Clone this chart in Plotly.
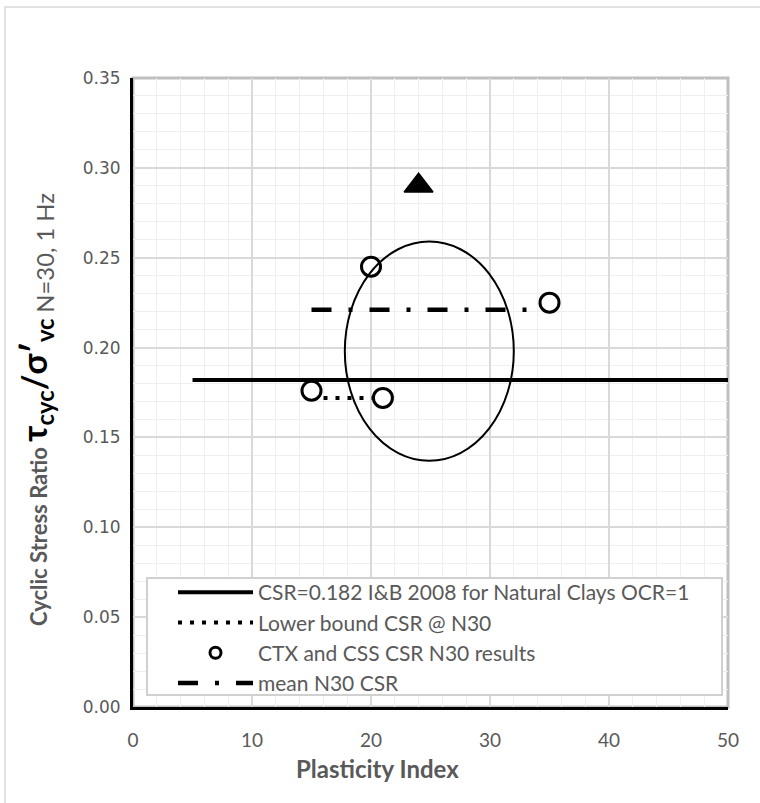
import plotly.graph_objects as go

# Reference line: Idriss & Boulanger (2008) CSR for natural clays
csr_ib_x = [5, 50]
csr_ib_y = [0.182, 0.182]

# Lower bound CSR at N=30
lower_x = [15, 21]
lower_y = [0.172, 0.172]

# Cyclic triaxial / cyclic simple shear results at N=30
test_pi = [15, 21, 20, 35]
test_csr = [0.176, 0.172, 0.245, 0.225]

# Mean N30 CSR
mean_x = [15, 35]
mean_y = [0.221, 0.221]

# Outlier result
outlier_pi = [24]
outlier_csr = [0.29]

# Envelope around the test cluster (PI range, CSR range)
env_pi = [17.8, 32.0]
env_csr = [0.137, 0.259]

x_ticks = [0, 10, 20, 30, 40, 50]
y_ticks = [0.00, 0.05, 0.10, 0.15, 0.20, 0.25, 0.30, 0.35]

GRAY = "#595959"
W, H = 760, 803
L, R, T, B = 133, 32, 78, 96
pw, ph = W - L - R, H - T - B


def px_x(p):
    return (p - L) / pw


def px_y(p):
    return (H - B - p) / ph


fig = go.Figure()

fig.add_trace(go.Scatter(
    x=csr_ib_x, y=csr_ib_y, mode="lines",
    name="CSR=0.182 I&B 2008 for Natural Clays OCR=1",
    line=dict(color="black", width=4), legendrank=1,
))
fig.add_trace(go.Scatter(
    x=lower_x, y=lower_y, mode="lines",
    name="Lower bound CSR @ N30",
    line=dict(color="black", width=4, dash="4px,8px"), legendrank=2,
))
fig.add_trace(go.Scatter(
    x=mean_x, y=mean_y, mode="lines",
    name="mean N30 CSR",
    line=dict(color="black", width=4.5, dash="20px,17px,4px,17px"),
    legendrank=4,
))
fig.add_trace(go.Scatter(
    x=test_pi, y=test_csr, mode="markers",
    name="CTX and CSS CSR N30 results", showlegend=False,
    marker=dict(symbol="circle", size=19, color="white",
                line=dict(color="black", width=3)),
))
# legend key for the test results (smaller symbol in the key)
fig.add_trace(go.Scatter(
    x=[None], y=[None], mode="markers",
    name="CTX and CSS CSR N30 results", legendrank=3,
    marker=dict(symbol="circle", size=11, color="white",
                line=dict(color="black", width=3)),
))
fig.add_trace(go.Scatter(
    x=outlier_pi, y=outlier_csr, mode="markers",
    showlegend=False,
    marker=dict(symbol="triangle-up", size=25, color="black",
                line=dict(color="black", width=1.5)),
))

shapes = [
    # plot-area frame (top/right edges grey)
    dict(type="rect", xref="paper", yref="paper", x0=0, x1=1, y0=0, y1=1,
         line=dict(color="#bfbfbf", width=3), layer="below"),
    # envelope ellipse
    dict(type="circle", xref="x", yref="y",
         x0=env_pi[0], x1=env_pi[1], y0=env_csr[0], y1=env_csr[1],
         line=dict(color="black", width=2), layer="above"),
    # legend box
    dict(type="rect", xref="paper", yref="paper",
         x0=px_x(147), x1=px_x(722), y0=px_y(695), y1=px_y(578),
         line=dict(color="#d0d0d0", width=2), fillcolor="white", layer="above"),
    # chart border
    dict(type="rect", xref="paper", yref="paper",
         x0=px_x(5), x1=px_x(770), y0=px_y(815), y1=px_y(7),
         line=dict(color="#d9d9d9", width=1.5), layer="below"),
]

ytitle = (
    '<span style="font-size:22px;color:#595959">Cyclic Stress Ratio </span>'
    '<span style="font-size:34px;color:black">τ<sub>cyc</sub>/σ′'
    '<sub>vc <span style="font-weight:normal;color:#595959">N=30, 1 Hz</span></sub></span>'
)

annotations = [
    dict(text="<b>" + ytitle + "</b>", xref="paper", yref="paper",
         x=px_x(36), y=px_y(410), textangle=-90, showarrow=False,
         xanchor="center", yanchor="middle",
         font=dict(family="Lato", size=22, color=GRAY)),
    dict(text="<b>Plasticity Index</b>", xref="paper", yref="paper",
         x=px_x(377), y=px_y(768), showarrow=False,
         xanchor="center", yanchor="middle",
         font=dict(family="Lato", size=24, color=GRAY)),
]

fig.update_layout(
    width=W, height=H,
    margin=dict(l=L, r=R, t=T, b=B),
    paper_bgcolor="white", plot_bgcolor="white",
    shapes=shapes, annotations=annotations,
    legend=dict(
        x=px_x(173), y=px_y(572), xanchor="left", yanchor="top",
        bgcolor="rgba(0,0,0,0)", borderwidth=0,
        font=dict(family="Lato", size=21, color=GRAY),
        itemwidth=75, tracegroupgap=0,
    ),
    xaxis=dict(
        range=[0, 50], tickvals=x_ticks, ticks="",
        showgrid=True, gridcolor="#d9d9d9", gridwidth=1.5,
        minor=dict(dtick=2, showgrid=True, gridcolor="#efefef", gridwidth=1),
        showline=True, linecolor="black", linewidth=3,
        zeroline=False, ticklabelstandoff=14,
        tickfont=dict(family="Lato", size=19, color=GRAY),
    ),
    yaxis=dict(
        range=[0, 0.35], tickvals=y_ticks, tickformat=".2f", ticks="",
        showgrid=True, gridcolor="#d9d9d9", gridwidth=1.5,
        minor=dict(dtick=0.01, showgrid=True, gridcolor="#efefef", gridwidth=1),
        showline=True, linecolor="black", linewidth=3,
        zeroline=False, ticklabelstandoff=6,
        tickfont=dict(family="DejaVu Sans", size=17, color=GRAY),
    ),
)

fig.write_html("out.html")
